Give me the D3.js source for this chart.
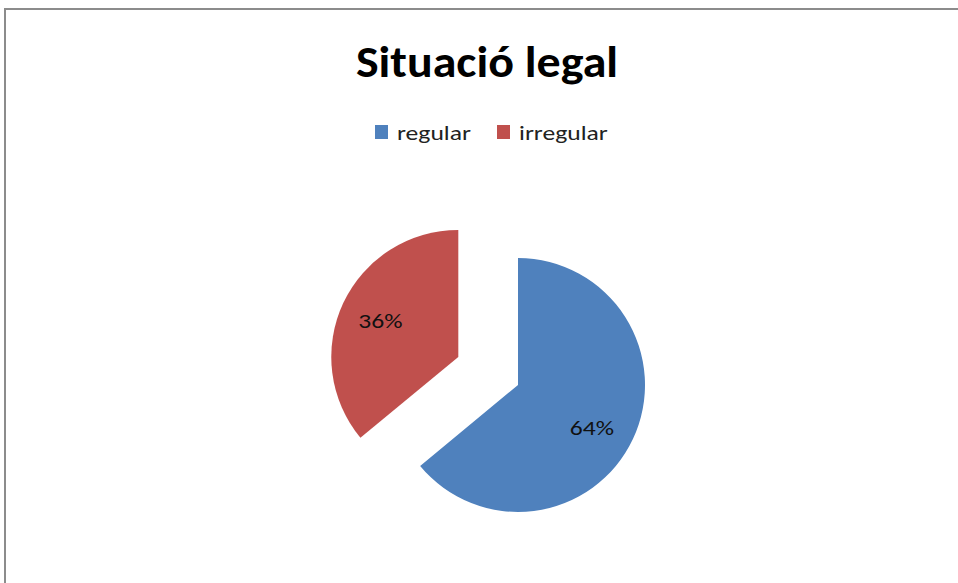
<!DOCTYPE html>
<html>
<head>
<meta charset="utf-8">
<script src="https://cdn.jsdelivr.net/npm/d3@7"></script>
<style>
  body { margin: 0; background: #fff; }
  svg { display: block; }
</style>
</head>
<body>
<div id="chart"></div>
<script>
// data
var categories = ["regular", "irregular"];
var values = [64, 36];
var colors = ["#4F81BD", "#C0504D"];
var titleText = "Situació legal";

var width = 958, height = 583;
var fontFamily = "Carlito, Lato, 'Open Sans', sans-serif";
var stretch = 1.22; // the original text is drawn wider than Lato

var svg = d3.select("#chart").append("svg")
    .attr("width", width)
    .attr("height", height);

// outer chart frame (runs off the right and bottom edge)
svg.append("rect")
    .attr("x", 5).attr("y", 9)
    .attr("width", width + 20).attr("height", height + 20)
    .attr("fill", "#fff")
    .attr("stroke", "#8c8c8c")
    .attr("stroke-width", 2);

svg.append("text")
    .attr("transform", "translate(487,77) scale(1.09,1)")
    .attr("text-anchor", "middle")
    .style("font-family", fontFamily)
    .style("font-weight", "bold")
    .style("font-size", "44px")
    .text(titleText);

// legend
var legendItemX = [375, 497];
var legend = svg.selectAll("g.legendItem").data(categories).enter()
    .append("g")
    .classed("legendItem", true)
    .attr("transform", function(d, i){ return "translate(" + legendItemX[i] + ",125)"; });
legend.append("rect")
    .attr("width", 13).attr("height", 14)
    .attr("fill", function(d, i){ return colors[i]; });
legend.append("text")
    .attr("transform", "translate(22,15) scale(" + stretch + ",1)")
    .style("font-family", fontFamily)
    .style("font-size", "21px")
    .style("fill", "#222")
    .text(function(d){ return d; });

// pie
var radius = 127;
var explode = 66;
var cx = 518, cy = 385;

var pie = d3.pie().sort(null).value(function(d){ return d; });
var arcs = pie(values);
var arc = d3.arc().innerRadius(0).outerRadius(radius);
var labelArc = d3.arc().innerRadius(86).outerRadius(86);

var slices = svg.selectAll("g.slice").data(arcs).enter()
    .append("g")
    .classed("slice", true)
    .attr("transform", function(d, i){
        var dx = 0, dy = 0;
        if (i == 1) { // the irregular slice is pulled out
            var mid = (d.startAngle + d.endAngle) / 2;
            dx = Math.sin(mid) * explode;
            dy = -Math.cos(mid) * explode;
        }
        return "translate(" + (cx + dx) + "," + (cy + dy) + ")";
    });

slices.append("path")
    .attr("d", arc)
    .attr("fill", function(d, i){ return colors[i]; });

slices.append("text")
    .attr("transform", function(d, i){
        var c = labelArc.centroid(d);
        if (i == 0) { c[0] -= 4; c[1] += 6; } // excel nudges this label a bit
        return "translate(" + c + ") scale(" + stretch + ",1)";
    })
    .attr("text-anchor", "middle")
    .attr("dy", "0.35em")
    .style("font-family", fontFamily)
    .style("font-size", "21px")
    .style("fill", "#111")
    .text(function(d){ return d.data + "%"; });
</script>
</body>
</html>
